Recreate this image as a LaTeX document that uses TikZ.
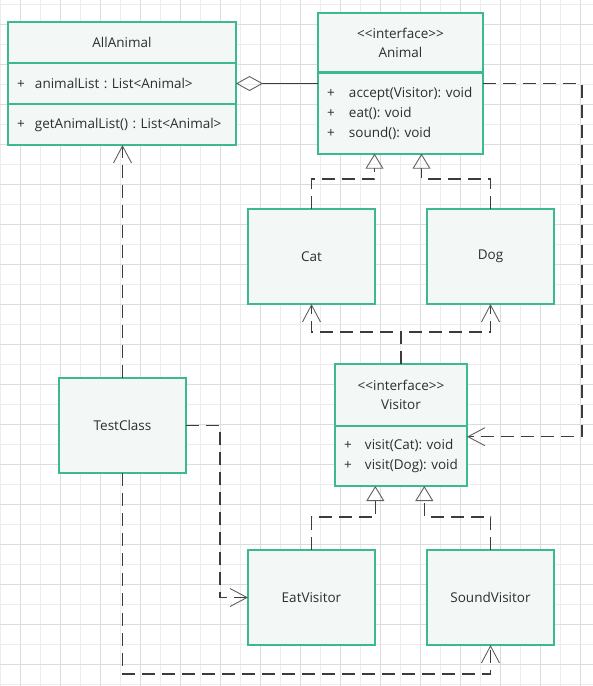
\documentclass[tikz,border=0pt]{standalone}
\usepackage{fontspec}
\setmainfont{Open Sans}
\usetikzlibrary{arrows.meta,positioning}
\definecolor{umlgreen}{RGB}{60,186,142}
\definecolor{umlfill}{RGB}{243,247,245}
\definecolor{umltext}{RGB}{45,45,50}
\definecolor{linegray}{RGB}{60,60,60}
\definecolor{tipgray}{RGB}{95,95,95}
\definecolor{gridlight}{RGB}{236,236,236}
\definecolor{griddark}{RGB}{220,220,220}
\frenchspacing
\newcommand\umlop[2][20pt]{\mbox{\makebox[#1][l]{+}#2}}
\newcommand\stereo{<\kern0pt<interface>\kern0pt>}
\tikzset{
    umlpart/.style={draw=umlgreen,fill=umlfill,line width=2pt,outer sep=0pt,inner sep=0pt,text=umltext},
    umltitle/.style={umlpart,align=center,font=\fontsize{13.5}{19}\selectfont},
    umlops/.style={umlpart,align=left,inner xsep=9pt,font=\fontsize{13.5}{20}\selectfont},
    umlbox/.style={umlpart,minimum width=127pt,minimum height=95pt,font=\fontsize{13.5}{19}\selectfont},
    dep/.style={draw=linegray,line width=1.2pt,dash pattern=on 13pt off 7pt,-{Straight Barb[length=17pt,width=18pt,line width=0.9pt,color=tipgray]}},
    realiz/.style={draw=linegray,line width=1.2pt,dash pattern=on 13pt off 7pt,-{Triangle[open,length=15pt,width=18pt,line width=0.9pt,color=tipgray]}},
    agg/.style={draw=linegray,line width=1.2pt,{Diamond[open,length=27pt,width=15pt,line width=0.9pt,color=tipgray]}-},
    gridthin/.style={draw=gridlight,line width=1pt},
    gridthick/.style={draw=griddark,line width=1pt},
}

\begin{document}
\begin{tikzpicture}[x=1pt,y=-1pt]
    \useasboundingbox (0,0) rectangle (593,686);
    % grid
    \foreach \x in {0.7,40.7,...,593} \draw[gridthin] (\x,0) -- (\x,686);
    \foreach \x in {20.7,60.7,...,593} \draw[gridthick] (\x,0) -- (\x,686);
    \foreach \y in {4.5,44.5,...,686} \draw[gridthin] (0,\y) -- (593,\y);
    \foreach \y in {24.5,64.5,...,686} \draw[gridthick] (0,\y) -- (593,\y);

    % classes
    \node[umltitle,minimum width=228pt,minimum height=41pt,anchor=north west] (allT) at (8,22) {AllAnimal};
    \node[umlops,text width=210pt,minimum height=41pt,below=0pt of allT] (allA) {\umlop[18pt]{animalList : List<Animal>}};
    \node[umlops,text width=210pt,minimum height=41pt,below=0pt of allA] (allM) {\umlop[18pt]{getAnimalList() : List<Animal>}};

    \node[umltitle,minimum width=165pt,minimum height=60pt,anchor=north west] (anmT) at (318,12.7) {\stereo\\Animal};
    \node[umlops,text width=147pt,minimum height=81pt,below=0pt of anmT] (anmM) {\umlop[22pt]{accept(Visitor): void}\\\umlop[22pt]{eat(): void}\\\umlop[22pt]{sound(): void}};
    \draw[umlgreen,line width=3pt] (anmT.south west) -- (anmT.south east);

    \node[umlbox,anchor=north west] (cat) at (248,209) {Cat};
    \node[umlbox,right=52pt of cat] (dog) {Dog};

    \node[umltitle,minimum width=132pt,minimum height=62pt,anchor=north west] (visT) at (335,364) {\stereo\\Visitor};
    \node[umlops,text width=114pt,minimum height=60pt,below=0pt of visT] (visM) {\umlop[21pt]{visit(Cat): void}\\\umlop[21pt]{visit(Dog): void}};

    \node[umlbox,anchor=north west] (test) at (59,378) {TestClass};
    \node[umlbox,anchor=north west] (eat) at (248,550) {EatVisitor};
    \node[umlbox,right=52pt of eat] (snd) {SoundVisitor};

    % relations
    \path[agg] (allA.east) -- (allA.east -| anmM.west);
    \path[dep] (test.north) -- (test.north |- allM.south);
    \path[realiz] (cat.north) -- ++(0,-30) -| ([xshift=-26pt]anmM.south);
    \path[realiz] (dog.north) -- ++(0,-30) -| ([xshift=21pt]anmM.south);
    \path[dep] (visT.north) -- ++(0,-32) -| (cat.south);
    \path[dep] (visT.north) -- ++(0,-32) -| (dog.south);
    \path[dep] ([yshift=-11pt]anmM.north east) -- ++(99,0) |- ([yshift=-10.7pt]visM.north east);
    \path[realiz] (eat.north) -- ++(0,-33) -| ([xshift=-25.7pt]visM.south);
    \path[realiz] (snd.north) -- ++(0,-33) -| ([xshift=23.3pt]visM.south);
    \path[dep] (test.east) -- ++(34,0) |- (eat.west);
    \path[dep] (test.south) -- ++(0,201) -| (snd.south);
\end{tikzpicture}
\end{document}
